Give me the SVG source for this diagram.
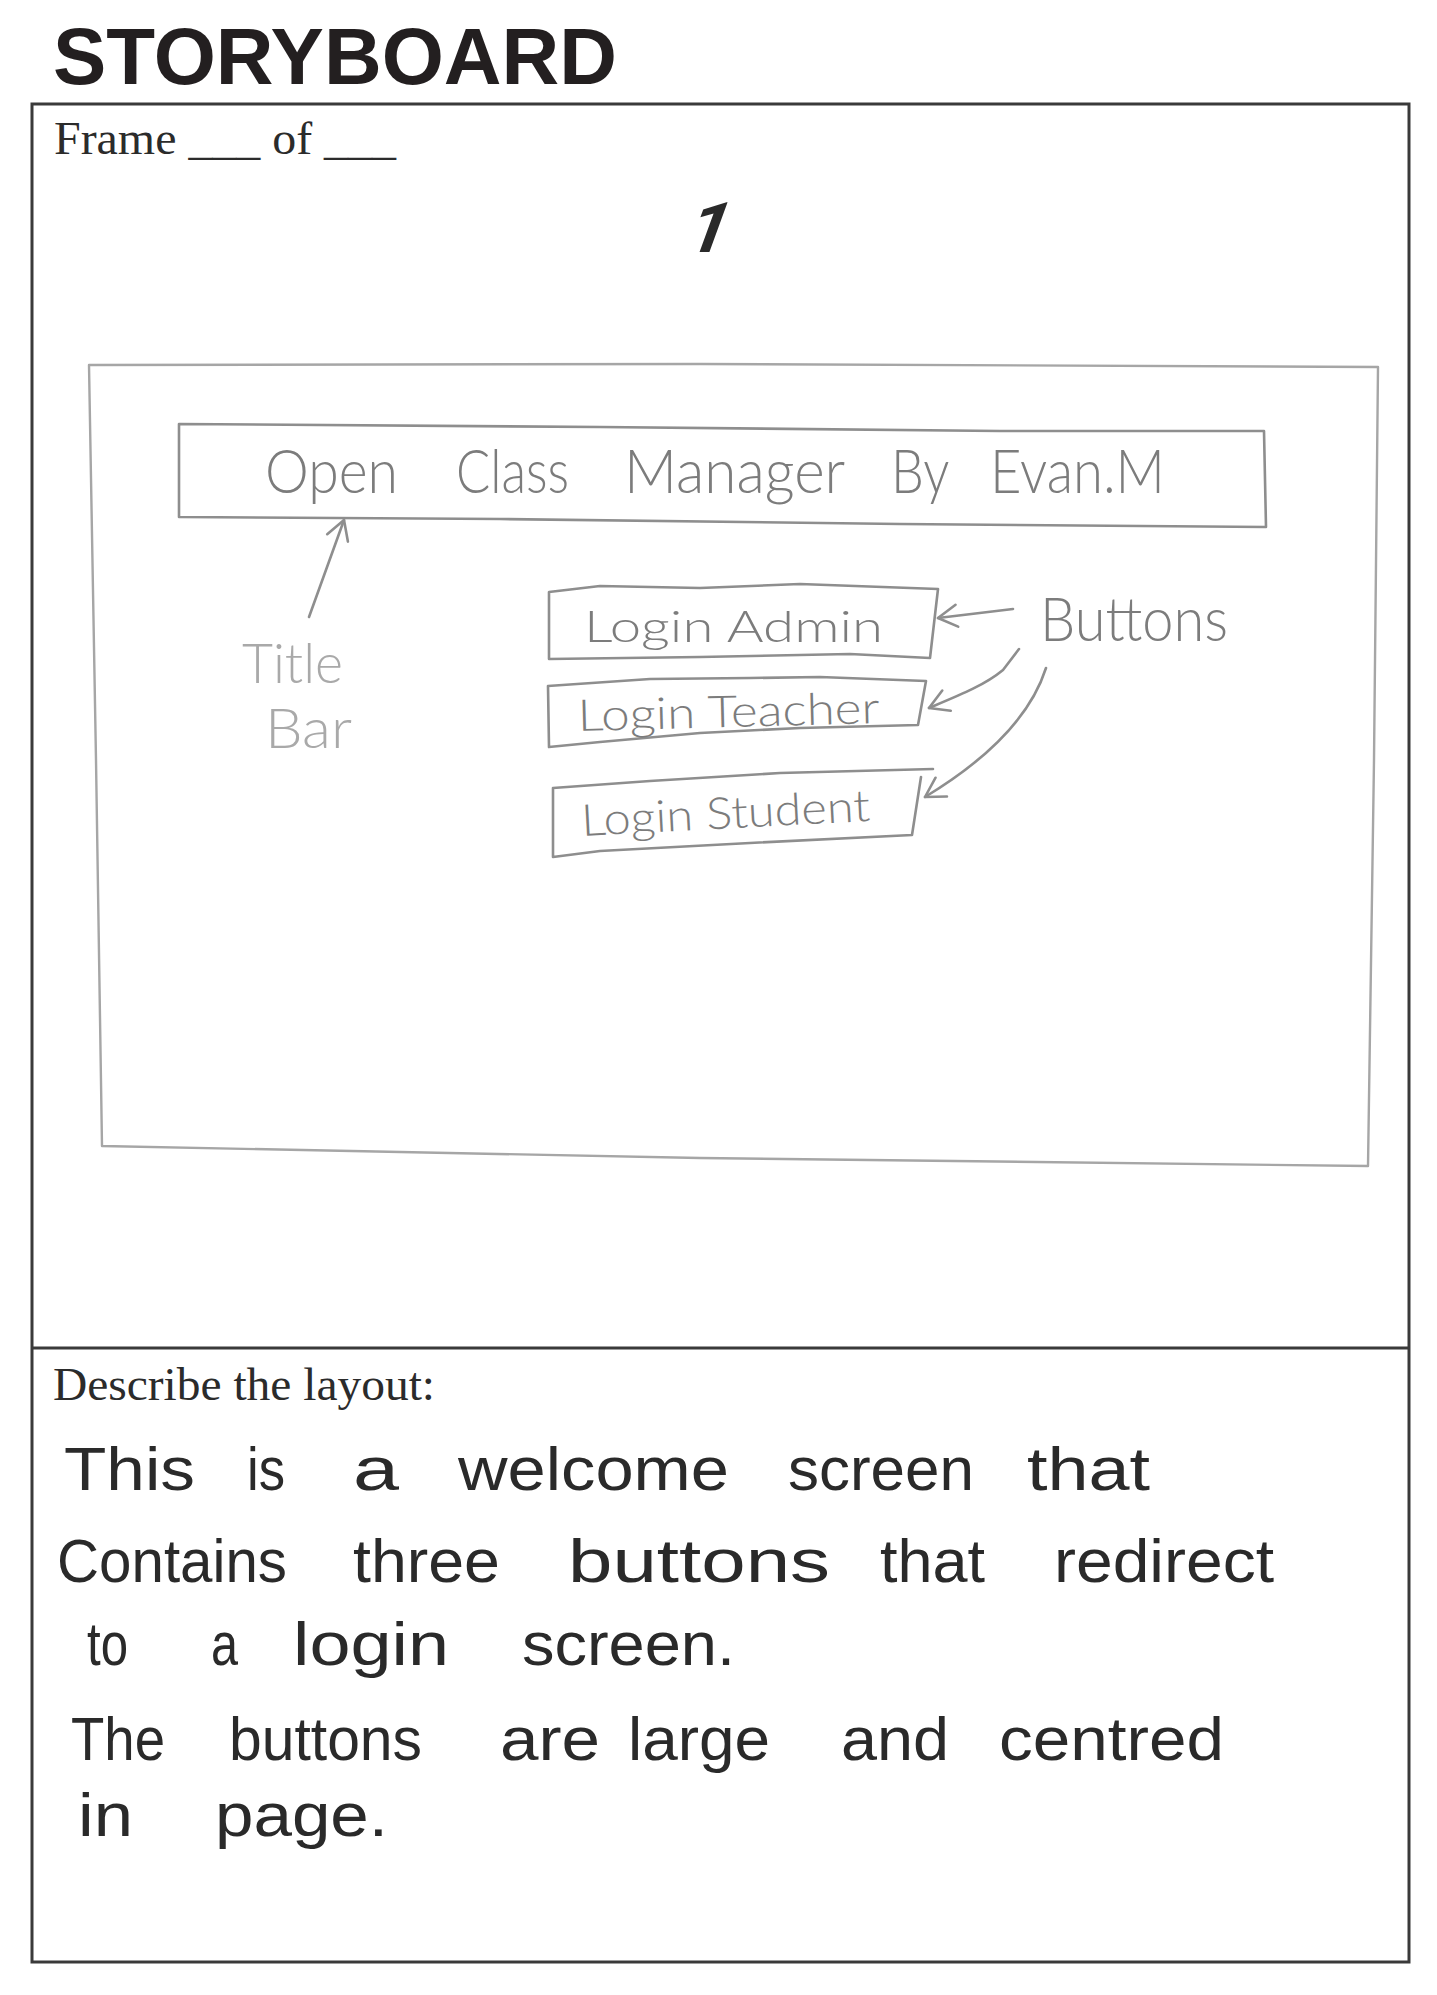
<svg xmlns="http://www.w3.org/2000/svg" width="1437" height="1995" viewBox="0 0 1437 1995">
  <style>
    .print { font-family: "Liberation Serif", "Times New Roman", serif; fill: #2b2b2b; }
    .heading { font-family: "Liberation Sans", Arial, sans-serif; font-weight: bold; fill: #231f20; }
    .frame { fill: none; stroke: #3a3a3a; stroke-width: 3; }
    .pencil { fill: none; stroke: #8e8e8e; stroke-width: 2.6; stroke-linejoin: round; stroke-linecap: round; }
    .pencil-light { fill: none; stroke: #a6a6a6; stroke-width: 2.4; stroke-linejoin: round; }
    .sketch { font-family: Lato, "Open Sans", "Liberation Sans", sans-serif; font-weight: 300; fill: #7c7c7c; }
    .faint { fill: #a9a9a9; }
    .pen { font-family: "Liberation Sans", Arial, sans-serif; font-size: 62px; fill: #2a2a2a; }
  </style>
  <defs>
    <marker id="head" markerUnits="userSpaceOnUse" viewBox="-22 -14 26 28" refX="0" refY="0" markerWidth="26" markerHeight="28" orient="auto">
      <path d="M-19,-11 L0,0 L-19,11" fill="none" stroke="#8e8e8e" stroke-width="2.6" stroke-linecap="round" stroke-linejoin="round"/>
    </marker>
  </defs>

  <rect width="1437" height="1995" fill="#ffffff"/>

  <!-- printed sheet -->
  <g id="sheet">
    <text class="heading" x="53" y="84" font-size="79" textLength="564" lengthAdjust="spacingAndGlyphs">STORYBOARD</text>
    <rect class="frame" x="32" y="104" width="1377" height="1858"/>
    <line class="frame" x1="32" y1="1348" x2="1409" y2="1348"/>
    <text class="print" x="54" y="154" font-size="47" textLength="342" lengthAdjust="spacingAndGlyphs">Frame ___ of ___</text>
    <text class="print" x="53" y="1400" font-size="47" textLength="382" lengthAdjust="spacingAndGlyphs">Describe the layout:</text>
  </g>

  <!-- frame number -->
  <g id="frame-number">
    <text transform="translate(704,252) skewX(-20)" x="-22" y="0" font-family="Roboto, 'Open Sans', sans-serif" font-weight="bold" font-size="70" fill="#2a2a2a">1</text>
  </g>

  <!-- sketched window -->
  <g id="screen">
    <path class="pencil-light" d="M89,365 L700,364 L1378,367 L1374,760 L1368,1166 L700,1158 L102,1146 L96,760 Z"/>
  </g>

  <!-- title bar -->
  <g id="title-bar">
    <path class="pencil" d="M179,424 L600,427 L1000,431 L1264,431 L1266,527 L900,524 L500,519 L179,517 Z"/>
    <text class="sketch" y="493" font-size="62">
      <tspan x="265" textLength="133" lengthAdjust="spacingAndGlyphs">Open</tspan>
      <tspan x="456" textLength="113" lengthAdjust="spacingAndGlyphs">Class</tspan>
      <tspan x="624" textLength="220" lengthAdjust="spacingAndGlyphs">Manager</tspan>
      <tspan x="891" textLength="57" lengthAdjust="spacingAndGlyphs">By</tspan>
      <tspan x="990" textLength="175" lengthAdjust="spacingAndGlyphs">Evan.M</tspan>
    </text>
  </g>

  <!-- title bar label -->
  <g id="label-title-bar">
    <text class="sketch faint" font-size="56">
      <tspan x="242" y="683" textLength="101" lengthAdjust="spacingAndGlyphs">Title</tspan>
      <tspan x="265" y="748" textLength="87" lengthAdjust="spacingAndGlyphs">Bar</tspan>
    </text>
  </g>

  <!-- buttons -->
  <g id="btn-admin">
    <path class="pencil" d="M549,592 L600,586 L700,588 L800,584 L938,589 L930,658 L850,654 L700,657 L549,659 Z"/>
    <text class="sketch" x="584" y="642" font-size="44" textLength="299" lengthAdjust="spacingAndGlyphs">Login Admin</text>
  </g>
  <g id="btn-teacher">
    <path class="pencil" d="M548,686 L650,679 L750,678 L820,677 L926,681 L918,725 L800,728 L700,733 L600,742 L549,747 Z"/>
    <text class="sketch" x="578" y="731" font-size="44" textLength="302" lengthAdjust="spacingAndGlyphs" transform="rotate(-1.5 578 731)">Login Teacher</text>
  </g>
  <g id="btn-student">
    <path class="pencil" d="M553,788 L650,781 L780,773 L933,769 M921,777 L912,835 L750,843 L600,851 L553,857 L553,788"/>
    <text class="sketch" x="582" y="836" font-size="44" textLength="289" lengthAdjust="spacingAndGlyphs" transform="rotate(-3 582 836)">Login Student</text>
  </g>

  <!-- buttons label -->
  <g id="label-buttons">
    <text class="sketch" x="1040" y="641" font-size="62" textLength="188" lengthAdjust="spacingAndGlyphs">Buttons</text>
  </g>

  <!-- callout arrows -->
  <g id="connectors">
    <path class="pencil" d="M309,617 L344,520" marker-end="url(#head)"/>
    <path class="pencil" d="M1013,609 L938,618" marker-end="url(#head)"/>
    <path class="pencil" d="M1019,649 L1003,670 C985,685 960,695 929,708" marker-end="url(#head)"/>
    <path class="pencil" d="M1046,668 Q1024,737 925,797" marker-end="url(#head)"/>
  </g>

  <!-- handwritten description -->
  <g id="description">
    <text class="pen" y="1490">
      <tspan x="64" textLength="131" lengthAdjust="spacingAndGlyphs">This</tspan>
      <tspan x="247" textLength="38" lengthAdjust="spacingAndGlyphs">is</tspan>
      <tspan x="353" textLength="46" lengthAdjust="spacingAndGlyphs">a</tspan>
      <tspan x="458" textLength="271" lengthAdjust="spacingAndGlyphs">welcome</tspan>
      <tspan x="788" textLength="186" lengthAdjust="spacingAndGlyphs">screen</tspan>
      <tspan x="1027" textLength="123" lengthAdjust="spacingAndGlyphs">that</tspan>
    </text>
    <text class="pen" y="1582">
      <tspan x="57" textLength="230" lengthAdjust="spacingAndGlyphs">Contains</tspan>
      <tspan x="353" textLength="147" lengthAdjust="spacingAndGlyphs">three</tspan>
      <tspan x="568" textLength="262" lengthAdjust="spacingAndGlyphs">buttons</tspan>
      <tspan x="880" textLength="105" lengthAdjust="spacingAndGlyphs">that</tspan>
      <tspan x="1054" textLength="220" lengthAdjust="spacingAndGlyphs">redirect</tspan>
    </text>
    <text class="pen" y="1665">
      <tspan x="87" textLength="41" lengthAdjust="spacingAndGlyphs">to</tspan>
      <tspan x="211" textLength="27" lengthAdjust="spacingAndGlyphs">a</tspan>
      <tspan x="293" textLength="156" lengthAdjust="spacingAndGlyphs">login</tspan>
      <tspan x="522" textLength="213" lengthAdjust="spacingAndGlyphs">screen.</tspan>
    </text>
    <text class="pen" y="1760">
      <tspan x="71" textLength="94" lengthAdjust="spacingAndGlyphs">The</tspan>
      <tspan x="229" textLength="193" lengthAdjust="spacingAndGlyphs">buttons</tspan>
      <tspan x="500" textLength="100" lengthAdjust="spacingAndGlyphs">are</tspan>
      <tspan x="628" textLength="142" lengthAdjust="spacingAndGlyphs">large</tspan>
      <tspan x="841" textLength="108" lengthAdjust="spacingAndGlyphs">and</tspan>
      <tspan x="999" textLength="225" lengthAdjust="spacingAndGlyphs">centred</tspan>
    </text>
    <text class="pen" y="1836">
      <tspan x="78" textLength="55" lengthAdjust="spacingAndGlyphs">in</tspan>
      <tspan x="215" textLength="173" lengthAdjust="spacingAndGlyphs">page.</tspan>
    </text>
  </g>
</svg>
